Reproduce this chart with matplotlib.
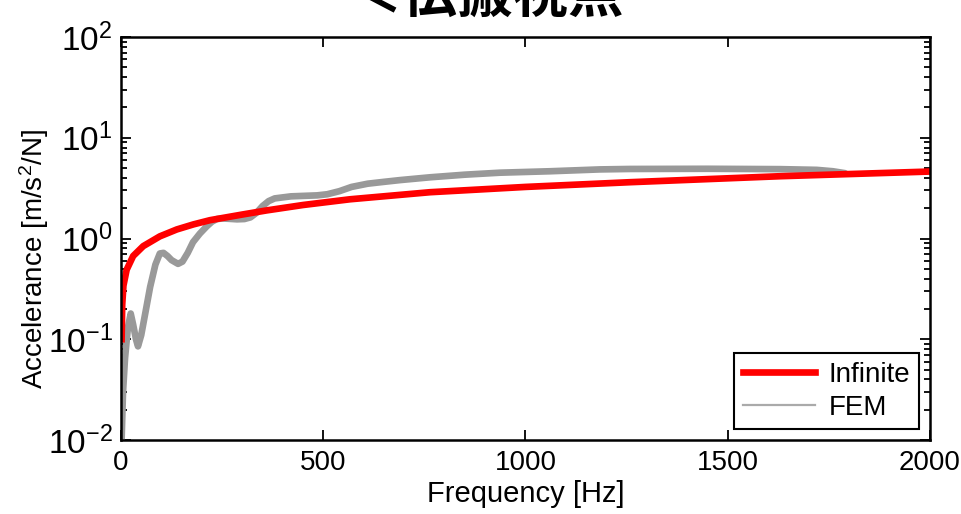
import numpy as np
import matplotlib
matplotlib.use('Agg')
import matplotlib.pyplot as plt
from matplotlib.lines import Line2D
from matplotlib.ticker import LogLocator, LogFormatterMathtext, FixedLocator, NullFormatter

plt.rcParams['font.family'] = ['Liberation Sans', 'DejaVu Sans']
plt.rcParams['mathtext.default'] = 'regular'

# Infinite model (analytic) accelerance
freq_inf = [1.5, 3, 6, 14, 30, 55, 96, 138, 179, 220, 300, 360, 450, 566,
            764, 1000, 1258, 1629, 2000]
acc_inf = [0.1, 0.22, 0.34, 0.49, 0.67, 0.84, 1.05, 1.23, 1.38, 1.52, 1.73,
           1.9, 2.15, 2.45, 2.88, 3.25, 3.62, 4.15, 4.62]

# FEM accelerance
freq_fem = [1.5, 5, 10, 17, 24, 30, 37, 42, 50, 62, 72, 85, 96, 105, 115,
            125, 141, 152, 165, 178, 195, 212, 225, 237, 250, 265, 287, 305,
            320, 335, 350, 365, 380, 420, 485, 510, 540, 570, 610, 650, 690,
            764, 850, 937, 1061, 1184, 1258, 1450, 1630, 1720, 1760, 1790]
acc_fem = [0.01, 0.03, 0.065, 0.13, 0.18, 0.14, 0.1, 0.085, 0.11, 0.2, 0.33,
           0.55, 0.71, 0.72, 0.67, 0.61, 0.56, 0.59, 0.72, 0.92, 1.12, 1.32,
           1.47, 1.56, 1.58, 1.57, 1.55, 1.56, 1.62, 1.8, 2.1, 2.35, 2.5,
           2.62, 2.68, 2.75, 2.95, 3.25, 3.5, 3.65, 3.8, 4.05, 4.3, 4.5, 4.65,
           4.85, 4.9, 4.92, 4.88, 4.8, 4.65, 4.45]

xticks = [0, 500, 1000, 1500, 2000]

fig = plt.figure(figsize=(9.62, 5.14), dpi=100)
ax = fig.add_axes([121/962, 1-440/514, (930-121)/962, (440-37)/514])

ax.plot(freq_fem, acc_fem, color='#999999', lw=4.8, solid_joinstyle='round',
        solid_capstyle='round')
ax.plot(freq_inf, acc_inf, color='#ff0000', lw=4.8, solid_joinstyle='round')

ax.set_yscale('log')
ax.set_xlim(0, 2000)
ax.set_ylim(1e-2, 1e2)

ax.xaxis.set_major_locator(FixedLocator(xticks))
ax.yaxis.set_major_locator(LogLocator(base=10, numticks=10))
ax.yaxis.set_minor_locator(LogLocator(base=10, subs=np.arange(2, 10), numticks=10))
ax.yaxis.set_major_formatter(LogFormatterMathtext())
ax.yaxis.set_minor_formatter(NullFormatter())

ax.tick_params(which='both', direction='in', top=True, right=True, width=1.3)
ax.tick_params(which='major', length=7)
ax.tick_params(which='minor', length=4)
ax.tick_params(axis='y', labelsize=24, pad=6)
ax.tick_params(axis='x', labelsize=20, pad=7)
for sp in ax.spines.values():
    sp.set_linewidth(1.8)

ax.set_xlabel('Frequency [Hz]', fontsize=21, labelpad=3)
ax.set_ylabel('Accelerance [m/s$^2$/N]', fontsize=20)
ax.yaxis.set_label_coords(-0.086, 0.45)

handles = [Line2D([], [], color='#ff0000', lw=4.8),
           Line2D([], [], color='#aaaaaa', lw=1.6)]
leg = ax.legend(handles, ['Infinite', 'FEM'], loc='lower right', fontsize=20,
                fancybox=False, framealpha=1, edgecolor='black',
                borderaxespad=0.4, handlelength=2.6, handletextpad=0.5,
                borderpad=0.3, labelspacing=0.25)
leg.get_frame().set_linewidth(1.5)

fig.text(485/962, 1-12/514, '＜伝搬視点', fontsize=40, fontweight='bold',
         ha='center', va='baseline', family=['Noto Sans CJK JP', 'DejaVu Sans'])

fig.savefig('out.png', dpi=100)
